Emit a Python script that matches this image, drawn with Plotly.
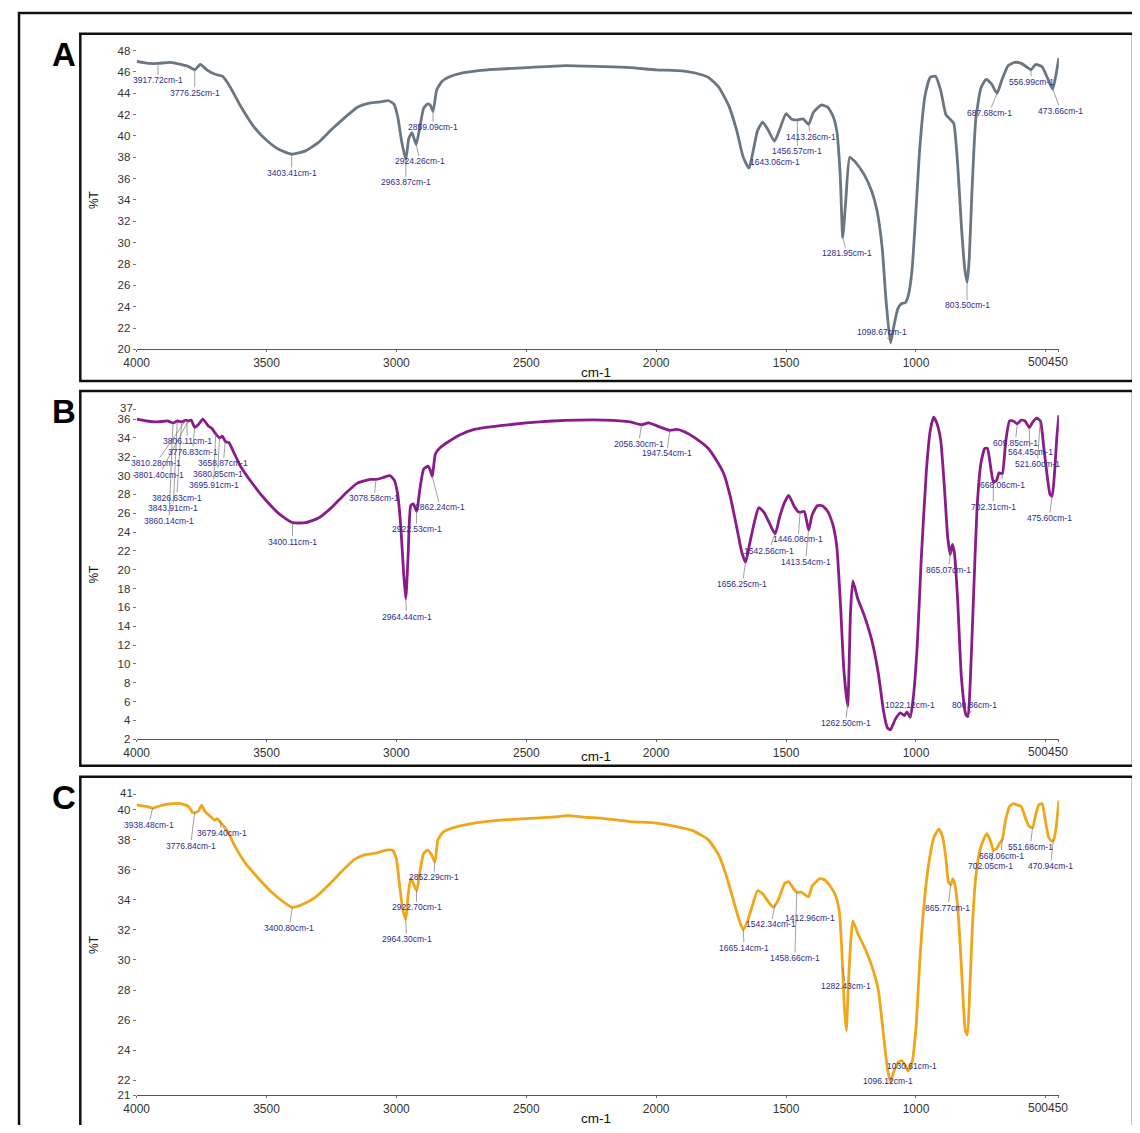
import numpy as np
import plotly.graph_objects as go

# page body has an 8px margin; figure sized so page = 1140 x 1133
W, H = 1124, 1117
OFF = 8

# ---------------- data ----------------
A_wn = [4000, 3950, 3917, 3870, 3830, 3800, 3776, 3755, 3730, 3700, 3670, 3640, 3600, 3550, 3500,
        3450, 3403, 3350, 3300, 3250, 3200, 3150, 3100, 3060, 3030, 3010, 2995, 2980, 2964, 2952,
        2940, 2924, 2910, 2895, 2880, 2870, 2859, 2845, 2825, 2800, 2750, 2650, 2500, 2350, 2200,
        2100, 2000, 1900, 1850, 1800, 1760, 1720, 1690, 1665, 1643, 1625, 1610, 1590, 1570, 1545,
        1525, 1500, 1480, 1456, 1435, 1413, 1395, 1365, 1340, 1320, 1305, 1292, 1282, 1270, 1255,
        1235, 1200, 1170, 1150, 1130, 1115, 1098, 1085, 1070, 1055, 1040, 1028, 1015, 1000, 985,
        965, 945, 925, 905, 885, 870, 855, 840, 825, 812, 803, 795, 785, 770, 750, 730, 710, 688,
        670, 645, 620, 595, 570, 557, 540, 515, 495, 474, 462, 450]
A_T = [47.0, 46.8, 46.8, 46.9, 46.7, 46.5, 46.2, 46.7, 46.2, 45.8, 45.6, 44.6, 42.8, 40.9, 39.6,
       38.7, 38.3, 38.6, 39.4, 40.6, 41.7, 42.7, 43.1, 43.2, 43.3, 43.0, 41.8, 39.5, 37.8, 39.8,
       40.3, 39.2, 40.8, 42.6, 43.0, 42.9, 42.3, 44.3, 45.1, 45.5, 45.9, 46.2, 46.4, 46.6, 46.5,
       46.4, 46.2, 46.1, 45.9, 45.5, 44.6, 42.8, 40.5, 38.0, 37.0, 38.8, 40.5, 41.3, 40.6, 39.5,
       40.6, 42.1, 41.6, 41.5, 41.6, 41.1, 42.2, 42.9, 42.7, 41.9, 40.5, 36.5, 30.5, 34.0, 38.0,
       37.6, 36.4, 34.8, 33.0, 29.5, 24.5, 20.6, 22.2, 23.8, 24.3, 24.4, 25.2, 27.5, 33.0, 39.0,
       43.8, 45.5, 45.6, 44.3, 42.0, 41.6, 41.2, 37.5, 31.5, 27.5, 26.3, 28.5, 34.5, 41.5, 44.5,
       45.3, 44.9, 44.0, 45.2, 46.6, 46.9, 46.8, 46.4, 46.2, 46.7, 46.5, 45.5, 44.4, 45.6, 47.3]

B_wn = [4000, 3960, 3920, 3880, 3860, 3843, 3826, 3810, 3801, 3790, 3776, 3760, 3745, 3725, 3710,
        3695, 3680, 3670, 3658, 3645, 3625, 3600, 3550, 3500, 3450, 3400, 3350, 3300, 3250, 3200,
        3150, 3100, 3078, 3050, 3025, 3008, 2995, 2983, 2972, 2964, 2955, 2945, 2935, 2922, 2910,
        2895, 2878, 2870, 2862, 2850, 2830, 2800, 2750, 2700, 2600, 2500, 2400, 2300, 2200, 2100,
        2056, 2030, 1980, 1947, 1920, 1880, 1840, 1800, 1770, 1740, 1715, 1690, 1670, 1656, 1640,
        1620, 1605, 1585, 1565, 1542, 1525, 1505, 1490, 1470, 1455, 1446, 1430, 1413, 1400, 1380,
        1360, 1340, 1320, 1305, 1290, 1278, 1263, 1252, 1243, 1225, 1200, 1170, 1145, 1125, 1110,
        1098, 1080, 1060, 1045, 1035, 1022, 1010, 995, 980, 960, 945, 932, 920, 905, 890, 878,
        868, 860, 852, 840, 825, 808, 800, 792, 780, 765, 750, 735, 725, 713, 702, 690, 680, 668,
        655, 640, 625, 610, 595, 580, 564, 550, 535, 521, 508, 495, 484, 476, 466, 458, 450]
B_T = [36.0, 35.8, 35.7, 35.8, 35.6, 35.8, 35.7, 35.9, 35.8, 35.9, 35.1, 35.5, 36.0, 35.3, 35.0,
       34.4, 34.0, 34.2, 33.6, 33.5, 32.4, 31.0, 29.0, 27.3, 25.9, 25.0, 25.0, 25.5, 26.6, 28.0,
       29.2, 29.6, 29.6, 29.8, 30.0, 29.5, 28.0, 24.5, 19.5, 16.9, 21.5, 26.8, 27.0, 26.2, 28.5,
       30.7, 31.0, 30.6, 29.9, 32.3, 33.0, 33.6, 34.4, 34.9, 35.3, 35.6, 35.8, 35.9, 35.9, 35.7,
       35.4, 35.6, 35.1, 34.8, 34.9, 34.5, 33.8, 32.9, 31.7, 30.2, 27.8, 24.5, 21.8, 20.8, 22.8,
       25.3, 26.6, 26.1, 25.0, 23.8, 25.6, 27.2, 27.9, 26.8, 26.2, 26.1, 26.2, 24.2, 25.8, 26.8,
       26.8, 26.2, 24.8, 22.5, 16.0, 9.5, 5.5, 15.5, 18.8, 17.0, 15.2, 12.5, 9.0, 5.0, 3.2,
       3.0, 4.1, 4.8, 4.5, 4.9, 4.3, 6.5, 12.0, 21.0, 30.5, 34.8, 36.2, 35.6, 33.8, 28.5, 23.5,
       21.6, 22.7, 21.8, 17.0, 8.5, 4.6, 4.4, 7.5, 16.0, 26.5, 31.3, 32.9, 32.9, 31.0, 29.3, 29.5, 30.3, 30.2,
       33.5, 35.8, 35.8, 35.5, 35.9, 35.8, 35.1, 35.7, 36.1, 35.8, 33.0, 30.0, 28.0, 27.8, 30.5, 34.0, 36.4]

C_wn = [4000, 3960, 3938, 3900, 3860, 3830, 3800, 3785, 3776, 3762, 3750, 3738, 3720, 3700, 3690,
        3679, 3665, 3645, 3620, 3580, 3530, 3480, 3430, 3400, 3360, 3310, 3260, 3210, 3160, 3120,
        3080, 3040, 3015, 3000, 2988, 2976, 2964, 2955, 2945, 2935, 2922, 2910, 2895, 2880, 2865,
        2852, 2840, 2820, 2780, 2700, 2600, 2500, 2400, 2340, 2280, 2200, 2100, 2000, 1930, 1860,
        1800, 1760, 1730, 1700, 1680, 1665, 1648, 1630, 1610, 1590, 1570, 1550, 1530, 1505, 1490,
        1470, 1458, 1440, 1425, 1413, 1400, 1370, 1350, 1330, 1310, 1295, 1285, 1276, 1268, 1260,
        1250, 1243, 1225, 1200, 1170, 1145, 1125, 1110, 1098, 1085, 1068, 1055, 1042, 1030, 1015,
        1000, 985, 970, 950, 930, 912, 898, 885, 875, 866, 858, 848, 835, 822, 810, 802, 793, 782,
        770, 755, 740, 727, 713, 702, 690, 680, 668, 655, 640, 625, 610, 595, 580, 565, 551, 540,
        528, 515, 503, 490, 478, 470, 462, 450]
C_T = [40.3, 40.2, 40.1, 40.3, 40.4, 40.4, 40.2, 39.8, 39.8, 39.9, 40.3, 39.9, 39.6, 39.3, 39.4,
       39.2, 38.9, 38.4, 37.5, 36.4, 35.4, 34.5, 33.8, 33.5, 33.7, 34.2, 35.0, 35.9, 36.7, 37.0,
       37.1, 37.3, 37.3, 36.7, 35.0, 33.4, 32.7, 34.3, 35.4, 35.1, 34.6, 35.8, 37.1, 37.3, 37.0,
       36.5, 38.0, 38.5, 38.8, 39.1, 39.3, 39.4, 39.5, 39.6, 39.5, 39.4, 39.2, 39.1, 38.9, 38.6,
       38.0, 37.0, 35.6, 33.8, 32.6, 32.0, 32.6, 33.6, 34.6, 34.4, 33.9, 33.5, 34.0, 35.1, 35.2,
       34.7, 34.5, 34.5, 34.3, 34.2, 34.9, 35.4, 35.3, 34.9, 34.3, 33.2, 30.5, 27.0, 25.3, 28.5,
       31.5, 32.6, 31.8, 30.9, 29.6, 28.0, 25.0, 22.8, 21.9, 22.6, 23.2, 23.3, 23.0, 22.6, 23.2,
       25.5, 30.0, 33.5, 36.5, 38.2, 38.7, 38.2, 36.8, 35.2, 35.0, 35.4, 34.8, 32.5, 28.5, 25.3, 25.0, 28.0, 32.5,
       35.5, 37.2, 38.0, 38.4, 37.9, 37.3, 37.4, 37.7, 38.0, 39.3, 40.2, 40.4, 40.3, 40.2, 39.5, 38.9, 38.8, 39.6,
       40.3, 40.4, 39.4, 38.2, 37.9, 38.0, 38.6, 40.6]

# peak labels (wavenumbers, cm-1)
A_peaks = [3917.72, 3776.25, 3403.41, 2963.87, 2924.26, 2859.09, 1643.06, 1456.57, 1413.26,
           1281.95, 1098.67, 803.50, 687.68, 556.99, 473.66]
B_peaks = [3860.14, 3843.91, 3826.63, 3810.28, 3801.40, 3806.11, 3776.83, 3695.91, 3680.85,
           3658.87, 3400.11, 3078.58, 2964.44, 2922.53, 2862.24, 2056.30, 1947.54, 1656.25,
           1542.56, 1446.08, 1413.54, 1262.50, 1022.12, 865.07, 800.86, 702.31, 668.06, 609.85,
           564.45, 521.60, 475.60]
C_peaks = [3938.48, 3776.84, 3679.40, 3400.80, 2964.30, 2922.70, 2852.29, 1665.14, 1542.34,
           1458.66, 1412.96, 1282.43, 1096.12, 1030.61, 865.77, 702.05, 668.06, 551.68, 470.94]

# tick labels (the last two x labels are drawn side by side, as "500450")
x_tickvals = [4000, 3500, 3000, 2500, 2000, 1500, 1000, 500, 450]
x_ticktext = ["4000", "3500", "3000", "2500", "2000", "1500", "1000", "500", "450"]
A_yticks = list(range(20, 49, 2))
B_yticks = list(range(2, 37, 2)) + [37]
C_yticks = [21] + list(range(22, 41, 2)) + [41]

# ---------------- styling / layout (reference pixel positions) ----------------
A_off = [(0, 17), (0, 23), (0, 19), (0, 23), (4, 17), (0, 16), (26, -6), (0, 31), (2, 13),
         (4, 16), (-8, -9), (0, 24), (-8, 20), (0, 12), (8, 22)]
B_off = [(-4, 98), (-4, 87), (-5, 76), (-30, 43), (-29, 54), (0, 21), (-2, 25), (-2, 51), (-2, 36),
         (-2, 22), (0, 19), (-2, 19), (1, 19), (0, 18), (8, 31), (-3, 19), (-3, 23), (-3, 22),
         (-6, 17), (-2, 27), (-3, 32), (-2, 21), (0, -12), (-3, 19), (7, -11), (0, 25), (0, 11),
         (-2, 19), (1, 25), (-3, 43), (-3, 23)]
C_off = [(-4, 17), (-4, 33), (2, 12), (-3, 21), (1, 20), (0, 17), (-1, 15), (1, 18), (-4, 20),
         (-2, 66), (1, 21), (3, 19), (-3, 1), (4, -5), (-3, 23), (-3, 16), (-1, 16), (-2, 19), (-3, 26)]

panels = [
    dict(name="A", wn=A_wn, T=A_T, peaks=A_peaks, off=A_off, color="#6b7780",
         yr=[20, 48], yt=A_yticks, top=45, bot=347, unit_y=370, box=(68, 28, 1133, 379)),
    dict(name="B", wn=B_wn, T=B_T, peaks=B_peaks, off=B_off, color="#8a1c8a",
         yr=[2, 37], yt=B_yticks, top=408, bot=741, unit_y=759, box=(68, 389, 1133, 768)),
    dict(name="C", wn=C_wn, T=C_T, peaks=C_peaks, off=C_off, color="#f0a61a",
         yr=[21, 41], yt=C_yticks, top=797, bot=1101, unit_y=1124, box=(68, 779, 1133, 1150)),
]

PX_L, PX_R = 125, 1058


def px(x):
    return (x - OFF) / W


def py(y):
    return 1 - (y - OFF) / H


fig = go.Figure()
annotations = []
shapes = []
layout = {}
font_fam = "Liberation Sans, Arial, sans-serif"
xtick_font = dict(family=font_fam, size=12, color="#333")
ytick_font = dict(family=font_fam, size=11.5, color="#333")

for i, p in enumerate(panels):
    k = "" if i == 0 else str(i + 1)
    xa, ya = "x" + k, "y" + k
    fig.add_trace(go.Scatter(
        x=p["wn"], y=p["T"], mode="lines", xaxis=xa, yaxis=ya,
        line=dict(color=p["color"], width=2.8, shape="spline", smoothing=0.5),
        hoverinfo="x+y", showlegend=False))
    # last two x tick labels are placed as a pair so they touch without overlapping
    shown_text = x_ticktext[:-2] + ["", ""]
    layout["xaxis" + k] = dict(
        domain=[px(PX_L), px(PX_R)], anchor=ya, range=[4000, 450],
        tickvals=x_tickvals, ticktext=shown_text, tickangle=0, ticks="outside", ticklen=2,
        tickcolor="#666", showline=True, linecolor="#555", linewidth=1,
        showgrid=False, zeroline=False, tickfont=xtick_font)
    # the top y tick label sits a little above its neighbour (as in the reference)
    yt = p["yt"]
    top_is_odd = (yt[-1] - yt[-2]) == 1
    ytext = [str(v) for v in yt]
    if top_is_odd:
        ytext[-1] = ""
        annotations.append(dict(x=0, y=yt[-1], xref=xa + " domain", yref=ya,
                                text=str(yt[-1]), showarrow=False, xanchor="right",
                                yanchor="middle", xshift=-4, yshift=2, borderpad=0,
                                borderwidth=0, font=ytick_font))
    layout["yaxis" + k] = dict(
        domain=[py(p["bot"]), py(p["top"])], anchor=xa, range=p["yr"],
        tickvals=yt, ticktext=ytext, ticks="outside", ticklen=3, tickcolor="#777",
        showline=False, showgrid=False, zeroline=False, tickfont=ytick_font)
    annotations.append(dict(x=x_tickvals[-2], y=0, xref=xa, yref=ya + " domain",
                            text=x_ticktext[-2], showarrow=False, xanchor="right",
                            yanchor="top", yshift=-6, xshift=2, borderpad=0, borderwidth=0,
                            font=xtick_font))
    annotations.append(dict(x=x_tickvals[-2], y=0, xref=xa, yref=ya + " domain",
                            text=x_ticktext[-1], showarrow=False, xanchor="left",
                            yanchor="top", yshift=-6, xshift=2, borderpad=0, borderwidth=0,
                            font=xtick_font))

    # peak labels
    wn_rev = np.array(p["wn"][::-1], dtype=float)
    T_rev = np.array(p["T"][::-1], dtype=float)
    for w, (dx, dy) in zip(p["peaks"], p["off"]):
        yv = float(np.interp(w, wn_rev, T_rev))
        annotations.append(dict(
            x=w, y=yv, xref=xa, yref=ya, text=f"{w:.2f}cm-1", showarrow=True,
            ax=dx, ay=dy, arrowhead=0, arrowwidth=0.7, arrowcolor="#777",
            standoff=0, borderpad=0,
            font=dict(family=font_fam, size=8.5, color="#2b2b8c")))

    # axis titles and panel letters
    mid_y = (p["top"] + p["bot"]) / 2
    annotations.append(dict(x=px(590), y=py(p["unit_y"]), xref="paper", yref="paper",
                            xanchor="center", yanchor="middle",
                            text="cm-1", showarrow=False,
                            font=dict(family=font_fam, size=13.5, color="#111")))
    annotations.append(dict(x=px(82), y=py(mid_y), xref="paper", yref="paper",
                            xanchor="center", yanchor="middle",
                            text="%T", showarrow=False, textangle=-90,
                            font=dict(family=font_fam, size=12, color="#111")))
    annotations.append(dict(x=px(52), y=py(p["box"][1] + 21), xref="paper", yref="paper",
                            xanchor="center", yanchor="middle",
                            text="<b>" + p["name"] + "</b>", showarrow=False,
                            font=dict(family=font_fam, size=33, color="#000")))
    x0, y0, x1, y1 = p["box"]
    shapes.append(dict(type="rect", xref="paper", yref="paper",
                       x0=px(x0), x1=px(x1), y0=py(y1), y1=py(y0),
                       line=dict(color="#111", width=2.5), fillcolor="rgba(0,0,0,0)"))

shapes.append(dict(type="rect", xref="paper", yref="paper",
                   x0=px(6), x1=px(1145), y0=py(1150), y1=py(7),
                   line=dict(color="#111", width=2.5), fillcolor="rgba(0,0,0,0)"))

fig.update_layout(
    width=W, height=H, margin=dict(l=0, r=0, t=0, b=0),
    paper_bgcolor="white", plot_bgcolor="white",
    annotations=annotations, shapes=shapes, showlegend=False,
    **layout)

fig.write_html("out.html")
